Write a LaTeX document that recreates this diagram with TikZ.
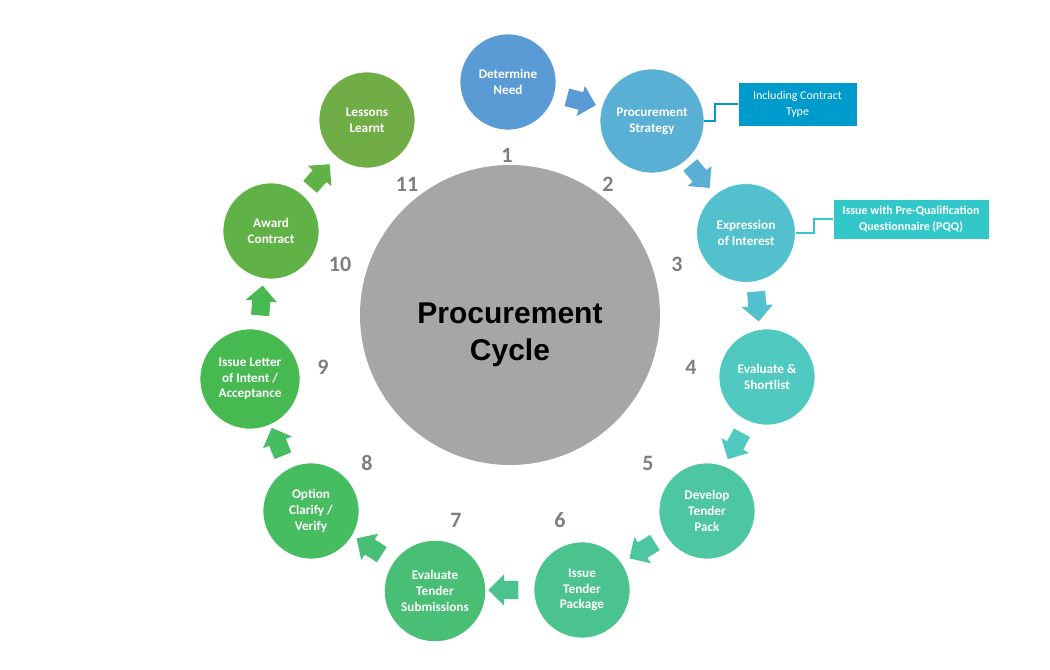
\documentclass[tikz,border=0pt]{standalone}
\usepackage{fontspec}
\setmainfont{Carlito}
\newfontfamily\arialfont{Liberation Sans}
\usetikzlibrary{shapes.arrows}
\definecolor{cA}{RGB}{91,155,213}
\definecolor{cB}{RGB}{90,175,212}
\definecolor{cC}{RGB}{82,193,205}
\definecolor{cD}{RGB}{80,201,192}
\definecolor{cE}{RGB}{77,198,162}
\definecolor{cF}{RGB}{75,195,142}
\definecolor{cG}{RGB}{73,191,118}
\definecolor{cH}{RGB}{71,189,98}
\definecolor{cI}{RGB}{70,186,80}
\definecolor{cJ}{RGB}{96,178,70}
\definecolor{cK}{RGB}{112,173,71}
\definecolor{boxA}{RGB}{0,155,205}
\definecolor{boxB}{RGB}{50,200,202}
\definecolor{hubgray}{RGB}{166,166,166}
\definecolor{numgray}{RGB}{127,127,127}
\begin{document}
\begin{tikzpicture}[x=0.75pt,y=-0.75pt,
  stage/.style={circle, fill=#1, draw=white, line width=0.5pt, text=white,
    font=\bfseries\fontsize{9.9}{11.8}\selectfont, align=center,
    inner sep=0pt, minimum size=72pt},
  flow/.style={single arrow, fill=#1, draw=none, minimum height=22.5pt,
    inner xsep=0pt, inner ysep=6.6pt, single arrow head extend=4.9pt,
    single arrow head indent=0pt},
  num/.style={text=numgray, font=\bfseries\fontsize{16.5}{18}\selectfont, inner sep=0pt},
  note/.style={fill=#1, text=white, align=center, inner sep=0pt,
    draw=white, line width=0.6pt},
  link/.style={draw=#1, line width=1.5pt}]
\path[use as bounding box] (0,0) rectangle (1050,670);

% hub
\node[circle, fill=hubgray, minimum size=225pt, inner sep=0pt] (hub) at (510,315) {};
\node[font=\arialfont\bfseries\fontsize{22.5}{27.5}\selectfont, align=center, inner sep=0pt]
  (hubtext) at (510,335) {Procurement\\Cycle};

% stages
\node[stage=cA] (c1) at (508,82) {Determine\\Need};
\node[stage=cB, minimum size=78pt] (c2) at (652,121) {Procurement\\Strategy};
\node[stage=cC, minimum size=74pt] (c3) at (746,233) {Expression\\of Interest};
\node[stage=cD] (c4) at (767,377) {Evaluate \&\\Shortlist};
\node[stage=cE] (c5) at (707,511) {Develop\\Tender\\Pack};
\node[stage=cF] (c6) at (582,590) {Issue\\Tender\\Package};
\node[stage=cG, minimum size=76pt] (c7) at (435,591) {Evaluate\\Tender\\Submissions};
\node[stage=cH] (c8) at (311,511) {Option\\Clarify /\\Verify};
\node[stage=cI, minimum size=75pt] (c9) at (250,379) {Issue Letter\\of Intent /\\Acceptance};
\node[stage=cJ] (c10) at (271,231) {Award\\Contract};
\node[stage=cK] (c11) at (367,120) {Lessons\\Learnt};

% flow arrows
\node[flow=cA, rotate=-15] (a1) at (577,100) {};
\node[flow=cB, rotate=-50] (a2) at (697,173) {};
\node[flow=cC, rotate=-85] (a3) at (757,302) {};
\node[flow=cD, rotate=-118] (a4) at (737,442) {};
\node[flow=cE, rotate=-148] (a5) at (646,548) {};
\node[flow=cF, rotate=180] (a6) at (508,590) {};
\node[flow=cG, rotate=147] (a7) at (373,549) {};
\node[flow=cH, rotate=112] (a8) at (279,446) {};
\node[flow=cI, rotate=85] (a9) at (261,305) {};
\node[flow=cJ, rotate=49] (a10) at (317,179) {};

% numbers
\node[num] (n1) at (507,155) {1};
\node[num] (n2) at (608,184) {2};
\node[num] (n3) at (677,264) {3};
\node[num] (n4) at (691,367) {4};
\node[num] (n5) at (648,463) {5};
\node[num] (n6) at (560,520) {6};
\node[num] (n7) at (456,520) {7};
\node[num] (n8) at (367,463) {8};
\node[num] (n9) at (323,367) {9};
\node[num] (n10) at (340,264) {10};
\node[num] (n11) at (407,184) {11};

% notes
\node[note=boxA, minimum width=89.25pt, minimum height=33pt,
  font=\fontsize{9}{12}\selectfont] (b1) at (797.5,104) {Including Contract\\Type};
\node[note=boxB, minimum width=117pt, minimum height=30pt,
  font=\bfseries\fontsize{9}{12}\selectfont] (b2) at (911,219) {Issue with Pre-Qualification\\Questionnaire (PQQ)};
\draw[link=boxA] (c2.east) -- ++(11,0) |- (b1.west);
\draw[link=boxB] (c3.east) -- ++(18,0) |- (b2.west);
\end{tikzpicture}
\end{document}
